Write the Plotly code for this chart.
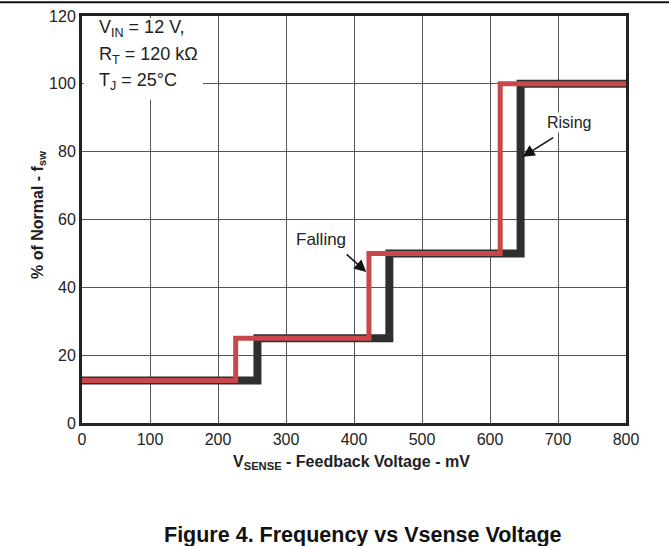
import plotly.graph_objects as go

# Data
rising_x = [0, 258, 452, 645, 800]
rising_y = [12.5, 25, 50, 100, 100]
falling_x = [0, 226, 422, 615, 800]
falling_y = [12.5, 25, 50, 100, 100]

x_ticks = [0, 100, 200, 300, 400, 500, 600, 700, 800]
y_ticks = [0, 20, 40, 60, 80, 100, 120]

cond_lines = ["V<sub>IN</sub> = 12 V,", "R<sub>T</sub> = 120 kΩ", "T<sub>J</sub> = 25°C"]

FONT = "Liberation Sans, Arial, sans-serif"

fig = go.Figure()
fig.add_trace(go.Scatter(x=rising_x, y=rising_y, mode="lines", line_shape="hv",
                         line=dict(color="#2f2f2f", width=8), name="Rising", cliponaxis=False))
fig.add_trace(go.Scatter(x=falling_x, y=falling_y, mode="lines", line_shape="hv",
                         line=dict(color="#c8474a", width=5), name="Falling", cliponaxis=False))

fig.update_layout(
    width=669, height=546,
    margin=dict(l=82, r=43, t=16, b=123, autoexpand=False),
    paper_bgcolor="white", plot_bgcolor="white",
    showlegend=False,
    font=dict(family=FONT, size=16, color="#222"),
)
fig.update_xaxes(range=[0, 800], tickvals=x_ticks, ticks="", showgrid=True,
                 gridcolor="#555", gridwidth=1, zeroline=False, automargin=False,
                 showline=True, linecolor="#222", linewidth=3, mirror=True,
                 tickfont=dict(size=16, family=FONT))
fig.update_yaxes(range=[0, 120], tickvals=y_ticks, ticks="", showgrid=True,
                 gridcolor="#555", gridwidth=1, zeroline=False, automargin=False,
                 showline=True, linecolor="#222", linewidth=3, mirror=True,
                 tickfont=dict(size=16, family=FONT))

# Axis titles
fig.add_annotation(xref="paper", yref="paper", x=0.496, y=-0.098, xanchor="center", yanchor="middle",
                   text="<b>V<sub>SENSE</sub> - Feedback Voltage - mV</b>", showarrow=False,
                   font=dict(size=16, family=FONT, color="#222"))
fig.add_annotation(xref="paper", yref="paper", x=-0.081, y=0.511, xanchor="center", yanchor="middle",
                   textangle=-90,
                   text="<b>% of Normal - f<sub>sw</sub></b>", showarrow=False,
                   font=dict(size=16, family=FONT, color="#222"))

# Condition box (white background hiding the grid)
fig.add_shape(type="rect", xref="x", yref="y", x0=2.5, x1=178, y0=95.3, y1=119.4,
              fillcolor="white", line=dict(width=0), layer="above")
for txt, yv in zip(cond_lines, [116.3, 108.3, 100.8]):
    fig.add_annotation(x=22, y=yv, xref="x", yref="y", xanchor="left", yanchor="middle",
                       text=txt, showarrow=False, font=dict(size=18, family=FONT, color="#222"))

# Falling label + arrow
fig.add_annotation(x=418, y=44.5, xref="x", yref="y", ax=-21, ay=-19,
                   text="", showarrow=True, arrowhead=2, arrowsize=1.5, arrowwidth=1.6,
                   arrowcolor="#111")
fig.add_annotation(x=391, y=54, xref="x", yref="y", text="Falling", showarrow=False,
                   xanchor="right", bgcolor="white", font=dict(size=17, family=FONT, color="#222"))

# Rising label + arrow
fig.add_annotation(x=648, y=78.5, xref="x", yref="y", ax=32, ay=-20,
                   text="", showarrow=True, arrowhead=2, arrowsize=1.5, arrowwidth=1.6,
                   arrowcolor="#111")
fig.add_annotation(x=716, y=88.5, xref="x", yref="y", text="Rising", showarrow=False,
                   bgcolor="white", font=dict(size=16, family=FONT, color="#222"))

# Top page rule
fig.add_shape(type="line", xref="paper", yref="paper", x0=-0.16, x1=1.09, y0=1.034, y1=1.034,
              line=dict(color="#111", width=2))

# Caption
fig.add_annotation(xref="paper", yref="paper", x=0.517, y=-0.275, xanchor="center", yanchor="middle",
                   text="<b>Figure 4. Frequency vs Vsense Voltage</b>",
                   showarrow=False, font=dict(size=21.5, family=FONT, color="#111"))

fig.write_html("out.html", config={"displayModeBar": False},
               post_script="document.body.style.margin='0';")
